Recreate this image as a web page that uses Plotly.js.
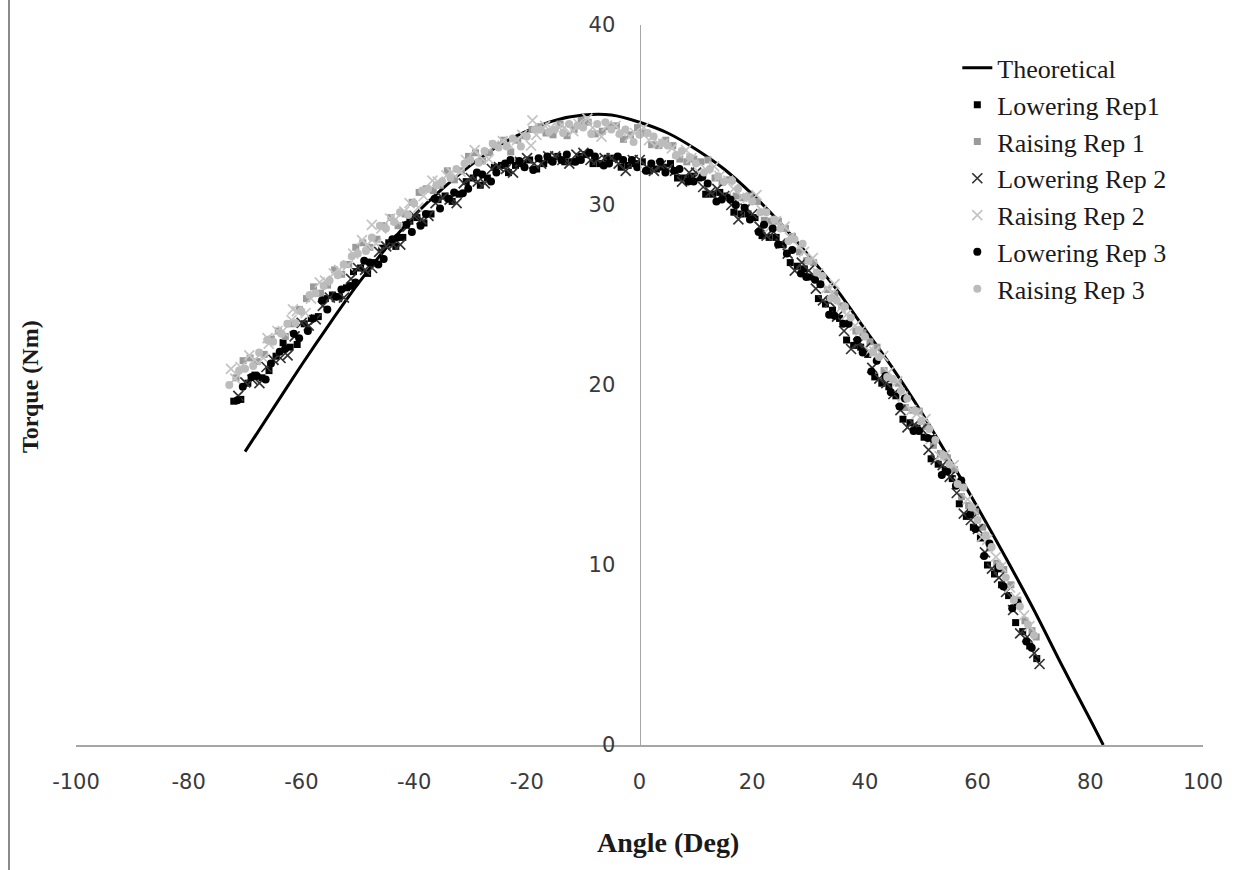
<!DOCTYPE html>
<html>
<head>
<meta charset="utf-8">
<script src="https://cdn.plot.ly/plotly-3.0.1.min.js"></script>
<style>html,body{margin:0;padding:0;background:#fff;}#chart{width:1243px;height:870px;}</style>
</head>
<body>
<div id="chart"></div>
<script>
// Theoretical curve
const theoAngle = [-70,-65,-60,-55,-50,-45,-40,-35,-30,-25,-20,-15,-10,-5,0,5,10,15,20,25,30,35,40,45,50,55,60,65,70,75,80,82.3];
const theoTorque = [16.3,18.7,21.1,23.4,25.6,27.6,29.4,30.9,32.2,33.3,34.1,34.7,35.0,35.0,34.6,34.0,33.1,32.0,30.6,29.0,27.2,25.3,23.1,20.9,18.5,15.9,13.2,10.4,7.5,4.4,1.4,0];

// Lowering Rep1
const lowRep1Angle = [-72,-69.5,-67,-64.5,-62,-59.5,-57,-54.5,-52,-49.5,-47,-44.5,-42,-39.5,-37,-34.5,-32,-29.5,-27,-24.5,-22,-19.5,-17,-14.5,-12,-9.5,-7,-4.5,-2,0.5,3,5.5,8,10.5,13,15.5,18,20.5,23,25.5,28,30.5,33,35.5,38,40.5,43,45.5,48,50.5,53,55.5,58,60.5,63,65.5,68,70.5,
  -70.75,-68.25,-65.75,-63.25,-60.75,-58.25,-55.75,-53.25,-50.75,-48.25,-45.75,-43.25,-40.75,-38.25,-35.75,-33.25,-30.75,-28.25,-25.75,-23.25,-20.75,-18.25,-15.75,-13.25,-10.75,-8.25,-5.75,-3.25,-0.75,1.75,4.25,6.75,9.25,11.75,14.25,16.75,19.25,21.75,24.25,26.75,29.25,31.75,34.25,36.75,39.25,41.75,44.25,46.75,49.25,51.75,54.25,56.75,59.25,61.75,64.25,66.75,69.25];
const lowRep1Torque = [19.1,20.1,20.4,21.6,22.1,23.4,23.8,25.0,25.4,26.5,26.8,27.9,28.2,29.3,29.5,30.5,30.6,31.5,31.5,32.2,32.2,32.5,32.3,32.7,32.4,32.8,32.3,32.6,32.2,32.4,32.0,32.3,31.5,31.5,30.6,30.5,29.5,29.3,28.2,27.8,26.6,26.0,24.5,23.7,22.2,21.7,20.1,19.4,17.9,17.1,15.6,14.8,12.7,11.5,9.5,8.3,6.3,4.8,
  19.2,20.55,20.8,22.35,22.25,23.7,24.8,24.9,26.3,26.2,27.6,27.7,29.1,29.0,30.3,30.2,31.3,31.1,32.1,31.8,32.3,32.0,32.5,32.4,32.7,32.3,32.6,32.1,32.3,31.9,32.1,31.5,31.6,30.6,30.7,29.6,29.5,28.3,28.2,26.8,26.45,24.8,24.15,22.5,22.1,20.45,19.9,18.1,17.6,15.9,15.3,13.4,12.1,10.0,8.9,6.8,5.5];

// Raising Rep 1
const raiRep1Angle = [-71.6,-69.1,-66.6,-64.1,-61.6,-59.1,-56.6,-54.1,-51.6,-49.1,-46.6,-44.1,-41.6,-39.1,-36.6,-34.1,-31.6,-29.1,-26.6,-24.1,-21.6,-19.1,-16.6,-14.1,-11.6,-9.1,-6.6,-4.1,-1.6,0.9,3.4,5.9,8.4,10.9,13.4,15.9,18.4,20.9,23.4,25.9,28.4,30.9,33.4,35.9,38.4,40.9,43.4,45.9,48.4,50.9,53.4,55.9,58.4,60.9,63.4,65.9,68.4,70.4,
  -70.35,-67.85,-65.35,-62.85,-60.35,-57.85,-55.35,-52.85,-50.35,-47.85,-45.35,-42.85,-40.35,-37.85,-35.35,-32.85,-30.35,-27.85,-25.35,-22.85,-20.35,-17.85,-15.35,-12.85,-10.35,-7.85,-5.35,-2.85,-0.35,2.15,4.65,7.15,9.65,12.15,14.65,17.15,19.65,22.15,24.65,27.15,29.65,32.15,34.65,37.15,39.65,42.15,44.65,47.15,49.65,52.15,54.65,57.15,59.65,62.15,64.65,67.15,69.65];
const raiRep1Torque = [20.4,21.5,21.7,23.0,23.4,24.8,25.1,26.4,26.7,27.9,28.1,29.3,29.5,30.7,30.8,31.9,31.9,32.9,32.9,33.6,33.6,34.2,34.0,34.5,34.2,34.6,34.1,34.4,33.9,34.0,33.3,33.3,32.4,32.4,31.5,31.4,30.4,30.2,29.1,28.7,27.4,26.8,25.3,24.4,23.0,22.4,20.8,20.1,18.6,17.7,16.2,15.3,13.3,12.1,10.1,8.9,6.9,6.0,
  21.35,21.3,22.55,22.7,24.2,25.45,25.55,26.15,27.65,27.65,28.85,28.85,30.15,30.9,31.1,31.4,32.7,32.45,33.3,32.95,33.85,34.35,33.9,33.85,34.7,33.95,34.35,33.65,34.3,33.35,33.6,32.55,32.55,32.5,31.25,30.5,30.5,29.15,29.1,28.25,26.9,25.6,25.05,23.45,22.9,22.1,20.35,18.75,18.55,16.65,15.95,13.8,12.95,10.95,9.75,8.05,6.35];

// Lowering Rep 2
const lowRep2Angle = [-71.2,-68.7,-66.2,-63.7,-61.2,-58.7,-56.2,-53.7,-51.2,-48.7,-46.2,-43.7,-41.2,-38.7,-36.2,-33.7,-31.2,-28.7,-26.2,-23.7,-21.2,-18.7,-16.2,-13.7,-11.2,-8.7,-6.2,-3.7,-1.2,1.3,3.8,6.3,8.8,11.3,13.8,16.3,18.8,21.3,23.8,26.3,28.8,31.3,33.8,36.3,38.8,41.3,43.8,46.3,48.8,51.3,53.8,56.3,58.8,61.3,63.8,66.3,68.8,71.0,
  -69.95,-67.45,-64.95,-62.45,-59.95,-57.45,-54.95,-52.45,-49.95,-47.45,-44.95,-42.45,-39.95,-37.45,-34.95,-32.45,-29.95,-27.45,-24.95,-22.45,-19.95,-17.45,-14.95,-12.45,-9.95,-7.45,-4.95,-2.45,0.05,2.55,5.05,7.55,10.05,12.55,15.05,17.55,20.05,22.55,25.05,27.55,30.05,32.55,35.05,37.55,40.05,42.55,45.05,47.55,50.05,52.55,55.05,57.55,60.05,62.55,65.05,67.55,70.05];
const lowRep2Torque = [19.4,20.3,21.0,21.5,22.7,23.3,24.4,24.9,25.9,26.4,27.4,27.8,28.8,29.2,30.1,30.3,31.2,31.3,32.0,32.0,32.4,32.3,32.7,32.5,32.8,32.5,32.6,32.3,32.5,32.1,32.2,31.9,31.8,31.0,30.9,30.0,29.8,28.8,28.5,27.3,26.8,25.35,24.6,23.0,22.3,20.95,20.1,18.6,17.8,16.4,15.55,14.0,12.5,10.7,9.3,7.5,6.0,4.5,
  20.15,20.1,21.4,21.65,23.45,23.65,24.85,24.85,26.5,26.5,27.7,27.8,29.4,29.4,30.4,30.1,31.5,31.2,32.1,31.8,32.6,32.3,32.7,32.3,32.9,32.5,32.6,31.9,32.5,31.9,32.0,31.3,31.8,30.7,30.5,29.2,29.5,28.3,27.85,26.35,26.35,24.7,23.8,22.0,22.05,20.35,19.5,17.65,17.55,15.85,14.9,12.85,12.0,9.8,8.5,6.2,5.1];

// Raising Rep 2
const raiRep2Angle = [-72.5,-70.8,-68.3,-66.0,-65.8,-63.3,-61.5,-60.8,-58.3,-55.8,-53.3,-50.8,-48.3,-47.5,-45.8,-43.3,-40.8,-38.3,-35.8,-33.3,-30.8,-28.3,-25.8,-23.3,-20.8,-19.0,-18.3,-15.8,-13.3,-10.8,-8.3,-5.8,-3.3,-0.8,1.7,4.2,6.7,9.2,11.7,14.2,16.7,19.2,21.7,24.2,26.7,29.2,31.7,34.2,34.6,36.7,39.2,41.7,44.2,46.7,49.2,51.7,54.2,56.7,59.2,61.7,64.2,66.7,69.2,
  -71.75,-69.25,-66.75,-64.25,-61.75,-59.25,-56.75,-54.25,-51.75,-49.25,-46.75,-44.25,-41.75,-39.25,-36.75,-34.25,-31.75,-29.25,-26.75,-24.25,-21.75,-19.25,-16.75,-14.25,-11.75,-9.25,-6.75,-4.25,-1.75,0.75,3.25,5.75,8.25,10.75,13.25,15.75,18.25,20.75,23.25,25.75,28.25,30.75,33.25,35.75,38.25,40.75,43.25,45.75,48.25,50.75,53.25,55.75,58.25,60.75,63.25,65.75,68.25];
const raiRep2Torque = [20.9,21.0,21.4,22.6,22.3,23.0,24.2,24.1,24.8,25.8,26.4,27.3,27.8,28.9,28.7,29.2,30.1,30.5,31.3,31.8,32.5,32.7,33.3,33.4,33.9,34.7,33.9,34.3,34.3,34.5,34.3,34.4,34.1,34.0,33.6,33.4,32.9,32.6,32.0,31.6,30.9,30.4,29.7,29.1,28.2,27.4,26.2,25.1,25.6,23.9,23.0,21.85,20.7,19.35,18.4,17.0,16.1,14.6,13.1,11.4,9.9,8.2,6.6,
  20.35,21.65,21.5,23.0,23.6,24.0,25.7,26.2,26.65,28.05,27.85,29.25,29.65,29.85,31.35,31.65,31.85,33.05,32.55,33.55,33.6,33.3,34.4,34.3,34.1,34.8,33.8,34.4,33.8,34.3,33.45,33.15,33.05,31.75,32.15,31.35,30.45,30.55,28.8,28.8,27.7,27.05,25.4,24.3,23.3,21.9,21.6,20.2,18.6,18.1,16.05,15.55,13.65,11.55,10.45,8.75,7.2];

// Lowering Rep 3
const lowRep3Angle = [-70.4,-67.9,-65.4,-62.9,-60.4,-57.9,-55.4,-52.9,-50.4,-47.9,-45.4,-42.9,-40.4,-37.9,-35.4,-32.9,-30.4,-27.9,-25.4,-22.9,-20.4,-17.9,-15.4,-12.9,-10.4,-7.9,-5.4,-2.9,-0.4,2.1,4.6,7.1,9.6,12.1,14.6,17.1,19.6,22.1,24.6,27.1,29.6,32.1,34.6,37.1,39.6,42.1,44.6,47.1,49.6,52.1,54.6,57.1,59.6,62.1,64.6,67.1,69.6,
  -71.35,-68.85,-66.35,-63.85,-61.35,-58.85,-56.35,-53.85,-51.35,-48.85,-46.35,-43.85,-41.35,-38.85,-36.35,-33.85,-31.35,-28.85,-26.35,-23.85,-21.35,-18.85,-16.35,-13.85,-11.35,-8.85,-6.35,-3.85,-1.35,1.15,3.65,6.15,8.65,11.15,13.65,16.15,18.65,21.15,23.65,26.15,28.65,31.15,33.65,36.15,38.65,41.15,43.65,46.15,48.65,51.15,53.65,56.15,58.65,61.15,63.65,66.15,68.65];
const lowRep3Torque = [19.9,20.5,21.2,22.0,22.6,23.7,24.2,25.3,25.7,26.8,27.0,28.2,28.5,29.5,29.8,30.7,30.9,31.7,31.8,32.5,32.1,32.6,32.4,32.8,32.5,32.7,32.3,32.5,32.1,32.3,31.8,32.0,31.3,31.2,30.3,30.0,29.2,28.9,27.8,27.5,26.0,25.6,23.85,23.4,21.8,21.35,19.6,19.25,17.45,17.0,15.2,14.7,12.0,11.2,8.8,7.9,5.4,
  19.15,20.45,20.3,21.85,22.85,23.0,24.7,24.9,25.5,26.9,26.7,28.1,28.9,28.85,30.35,30.35,30.65,31.8,31.3,32.3,32.45,31.95,32.7,32.5,32.4,32.9,32.2,32.7,32.5,31.9,32.4,31.9,31.3,31.55,30.2,30.3,29.85,28.5,28.7,27.3,26.2,25.85,23.9,23.4,22.5,20.75,20.5,18.8,17.45,17.05,15.0,14.4,12.8,10.5,9.8,7.6,5.75];

// Raising Rep 3
const raiRep3Angle = [-72.8,-70.0,-67.5,-65.0,-62.5,-60.0,-57.5,-55.0,-52.5,-50.0,-47.5,-45.0,-42.5,-40.0,-37.5,-35.0,-32.5,-30.0,-27.5,-25.0,-22.5,-20.0,-17.5,-15.0,-12.5,-10.0,-7.5,-5.0,-2.5,0.0,2.5,5.0,7.5,10.0,12.5,15.0,17.5,20.0,22.5,25.0,27.5,30.0,32.5,35.0,37.5,40.0,42.5,45.0,47.5,50.0,52.5,55.0,57.5,60.0,62.5,65.0,67.5,70.0,
  -71.05,-68.55,-66.05,-63.55,-61.05,-58.55,-56.05,-53.55,-51.05,-48.55,-46.05,-43.55,-41.05,-38.55,-36.05,-33.55,-31.05,-28.55,-26.05,-23.55,-21.05,-18.55,-16.05,-13.55,-11.05,-8.55,-6.05,-3.55,-1.05,1.45,3.95,6.45,8.95,11.45,13.95,16.45,18.95,21.45,23.95,26.45,28.95,31.45,33.95,36.45,38.95,41.45,43.95,46.45,48.95,51.45,53.95,56.45,58.95,61.45,63.95,66.45,68.95];
const raiRep3Torque = [20.0,20.9,21.8,22.4,23.4,24.1,25.1,25.8,26.7,27.3,28.2,28.7,29.6,30.1,30.9,31.3,32.0,32.5,33.0,33.2,33.7,33.8,34.2,34.2,34.5,34.3,34.5,34.2,34.2,33.9,33.8,33.3,33.0,32.3,32.0,31.3,30.9,30.2,29.6,28.7,28.1,26.9,26.05,24.7,23.75,22.7,21.55,20.3,19.25,18.0,16.95,15.6,14.3,12.5,11.0,9.3,7.7,6.1,
  20.8,21.05,22.5,22.85,23.45,25.0,25.5,26.1,27.15,27.45,28.85,29.05,29.45,30.8,31.1,31.5,32.3,32.35,33.4,33.25,33.25,34.2,34.05,34.0,34.4,33.95,34.6,33.95,33.5,34.0,33.45,32.75,32.65,31.8,31.6,31.35,30.45,29.6,29.2,28.0,27.85,26.25,24.8,24.35,23.05,21.8,20.45,19.7,18.55,17.55,16.1,14.5,13.2,11.65,9.95,8.05,6.7];

const xTicks = [-100,-80,-60,-40,-20,0,20,40,60,80,100];
const xTickText = ['-100','-80','-60','-40','-20','0','20','40','60','80','100'];
const yTicks = [0,10,20,30,40];

function pts(name, x, y, symbol, color, size, group) {
  return {type:'scatter', mode:'markers', name:name, x:x, y:y, legendgroup:group,
    marker:{symbol:symbol, color:color, size:size, line:{width: symbol==='x-thin'?1.7:0, color:color}}};
}

const traces = [
  {type:'scatter', mode:'lines', name:'Theoretical', x:theoAngle, y:theoTorque, legendgroup:'g0',
   line:{color:'#000', width:3, shape:'spline', smoothing:0.8}},
  pts('Lowering Rep1', lowRep1Angle, lowRep1Torque, 'square', '#000000', 7, 'g1'),
  pts('Raising Rep 1', raiRep1Angle, raiRep1Torque, 'square', '#9a9a9a', 7, 'g2'),
  pts('Lowering Rep 2', lowRep2Angle, lowRep2Torque, 'x-thin', '#333333', 10, 'g3'),
  pts('Raising Rep 2', raiRep2Angle, raiRep2Torque, 'x-thin', '#c4c4c4', 10, 'g4'),
  pts('Lowering Rep 3', lowRep3Angle, lowRep3Torque, 'circle', '#000000', 8, 'g5'),
  pts('Raising Rep 3', raiRep3Angle, raiRep3Torque, 'circle', '#bcbcbc', 8, 'g6')
];

const layout = {
  width:1243, height:870,
  margin:{l:76, r:40, t:25, b:125},
  paper_bgcolor:'#fff', plot_bgcolor:'#fff',
  showlegend:true,
  font:{family:'"DejaVu Sans", sans-serif', color:'#404040'},
  xaxis:{range:[-100,100], tickvals:xTicks, ticktext:xTickText, showgrid:false, zeroline:false,
    showline:true, linecolor:'#a6a6a6', linewidth:1.5, ticks:'', ticklabelstandoff:17,
    tickfont:{family:'"DejaVu Sans", sans-serif', size:21, color:'#3a3a3a'}},
  yaxis:{range:[0,40], tickvals:yTicks, showgrid:false, zeroline:false,
    anchor:'free', position:0.5,
    showline:true, linecolor:'#a6a6a6', linewidth:1.5, ticks:'', ticklabelstandoff:20,
    tickfont:{family:'"DejaVu Sans", sans-serif', size:21, color:'#3a3a3a'}},
  legend:{x:0.782, y:0.973, xanchor:'left', yanchor:'top', bgcolor:'rgba(0,0,0,0)',
    font:{family:'"Liberation Serif", "Times New Roman", serif', size:26, color:'#1a1a1a'},
    tracegroupgap:0, itemwidth:30},
  annotations:[
    {text:'<b>Angle (Deg)</b>', xref:'paper', yref:'paper', x:(668-76)/1127, y:(745-842)/720,
     showarrow:false, xanchor:'center', yanchor:'middle',
     font:{family:'"Liberation Serif", "Times New Roman", serif', size:28, color:'#1a1a1a'}},
    {text:'<b>Torque (Nm)</b>', xref:'paper', yref:'paper', x:(30-76)/1127, y:(745-387)/720,
     showarrow:false, xanchor:'center', yanchor:'middle', textangle:-90,
     font:{family:'"Liberation Serif", "Times New Roman", serif', size:24, color:'#1a1a1a'}}
  ],
  shapes:[
    {type:'line', xref:'paper', yref:'paper', x0:(9-76)/1127, x1:(9-76)/1127,
     y0:(745-870)/720, y1:(745-0)/720, line:{color:'#8a8a8a', width:2}}
  ]
};

Plotly.newPlot('chart', traces, layout, {displayModeBar:false, staticPlot:true});
</script>
</body>
</html>
